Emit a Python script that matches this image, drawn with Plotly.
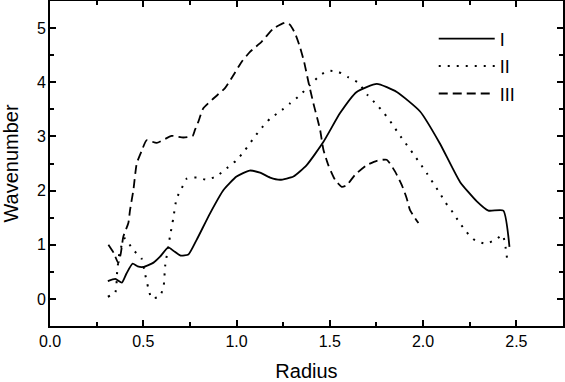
import plotly.graph_objects as go

# Series I (solid)
x1 = [0.31, 0.35, 0.385, 0.41, 0.443, 0.47, 0.50, 0.555, 0.59, 0.634, 0.661, 0.70, 0.742,
      0.786, 0.858, 0.93, 1.00, 1.07, 1.126, 1.18, 1.233, 1.305, 1.376, 1.466, 1.555,
      1.644, 1.752, 1.859, 1.984, 2.09, 2.198, 2.288, 2.35, 2.43, 2.463]
y1 = [0.33, 0.37, 0.30, 0.47, 0.65, 0.60, 0.59, 0.67, 0.78, 0.95, 0.89, 0.80, 0.82,
      1.09, 1.58, 2.01, 2.26, 2.37, 2.33, 2.24, 2.20, 2.26, 2.47, 2.90, 3.43,
      3.82, 3.97, 3.82, 3.46, 2.87, 2.16, 1.80, 1.63, 1.63, 0.96]

# Series II (dotted)
x2 = [0.31, 0.35, 0.36, 0.372, 0.40, 0.447, 0.49, 0.509, 0.527, 0.545, 0.59, 0.61, 0.617,
      0.643, 0.661, 0.679, 0.706, 0.733, 0.787, 0.84, 0.894, 0.947, 1.0, 1.046, 1.09,
      1.126, 1.18, 1.233, 1.287, 1.34, 1.394, 1.448, 1.492, 1.546, 1.60, 1.653, 1.703,
      1.748, 1.791, 1.832, 1.871, 1.907, 1.945, 1.984, 2.02, 2.052, 2.088, 2.12, 2.159,
      2.193, 2.234, 2.279, 2.338, 2.391, 2.427, 2.44, 2.454]
y2 = [0.04, 0.12, 0.5, 0.84, 1.12, 0.90, 0.75, 0.47, 0.20, 0.01, 0.05, 0.26, 0.6,
      1.15, 1.49, 1.86, 2.04, 2.22, 2.24, 2.20, 2.27, 2.41, 2.56, 2.75, 2.96,
      3.12, 3.33, 3.46, 3.61, 3.76, 3.95, 4.13, 4.21, 4.19, 4.09, 3.99, 3.76,
      3.60, 3.43, 3.24, 3.04, 2.87, 2.69, 2.50, 2.32, 2.15, 1.96, 1.78, 1.60,
      1.42, 1.23, 1.08, 1.02, 1.10, 1.18, 1.0, 0.64]

# Series III (dashed)
x3 = [0.313, 0.343, 0.366, 0.38, 0.393, 0.42, 0.429, 0.447, 0.465, 0.49, 0.518, 0.572,
      0.652, 0.715, 0.765, 0.777, 0.795, 0.822, 0.876, 0.938, 0.983, 1.028, 1.072,
      1.135, 1.197, 1.26, 1.287, 1.314, 1.34, 1.362, 1.385, 1.412, 1.433, 1.448,
      1.466, 1.492, 1.528, 1.564, 1.591, 1.635, 1.698, 1.752, 1.805, 1.85, 1.886,
      1.912, 1.93, 1.975]
y3 = [1.0, 0.84, 0.66, 0.85, 1.15, 1.40, 1.64, 2.01, 2.50, 2.72, 2.93, 2.88,
      3.01, 2.98, 3.01, 3.12, 3.27, 3.52, 3.70, 3.89, 4.13, 4.38, 4.56,
      4.75, 4.99, 5.10, 5.06, 4.90, 4.65, 4.38, 4.01, 3.61, 3.33, 3.12,
      2.75, 2.47, 2.20, 2.07, 2.10, 2.29, 2.47, 2.55, 2.57, 2.35, 2.10,
      1.86, 1.64, 1.40]

names = ["I", "II", "III"]
xtick_vals = [0.0, 0.5, 1.0, 1.5, 2.0, 2.5]
ytick_vals = [0, 1, 2, 3, 4, 5]

FONT = "Liberation Sans, Arial, sans-serif"

fig = go.Figure()
styles = [
    dict(dash="solid", width=1.8),
    dict(dash="2px,7px", width=2),
    dict(dash="9px,5px", width=1.8),
]
for xs, ys, nm, st, grp in zip([x1, x2, x3], [y1, y2, y3], names, styles, ["a", "b", "c"]):
    fig.add_trace(go.Scatter(
        x=xs, y=ys, name=nm, mode="lines", legendgroup=grp,
        line=dict(color="black", width=st["width"], dash=st["dash"], shape="spline", smoothing=0.5),
    ))

axis_common = dict(
    showline=True, linewidth=2, linecolor="black", mirror="ticks",
    ticks="inside", ticklen=6, tickwidth=1.5, tickcolor="black",
    showgrid=False, zeroline=False, automargin=False,
    tickfont=dict(family=FONT, size=16, color="black"),
)

fig.update_layout(
    width=565, height=382,
    margin=dict(l=50, r=2, t=1, b=56),
    plot_bgcolor="white", paper_bgcolor="white",
    showlegend=True,
    legend=dict(
        x=0.748, y=0.94, xanchor="left", yanchor="top",
        bgcolor="rgba(0,0,0,0)", borderwidth=0, itemwidth=56,
        font=dict(family=FONT, size=18, color="black"),
        traceorder="grouped", tracegroupgap=1,
    ),
    xaxis=dict(
        range=[0, 2.75], tickvals=xtick_vals, tickformat=".1f",
        minor=dict(dtick=0.25, tick0=0, ticks="inside", ticklen=4, tickwidth=1.5, tickcolor="black"),
        title=dict(text="Radius", font=dict(family=FONT, size=20, color="black"), standoff=21),
        **axis_common,
    ),
    yaxis=dict(
        range=[-0.5, 5.5], tickvals=ytick_vals, ticklabelstandoff=-1,
        minor=dict(dtick=0.5, tick0=0, ticks="inside", ticklen=4, tickwidth=1.5, tickcolor="black"),
        title=dict(text="Wavenumber", font=dict(family=FONT, size=20, color="black"), standoff=14),
        **axis_common,
    ),
)

fig.write_html(
    "out.html",
    config={"displayModeBar": False},
    post_script="document.body.style.margin='0';document.body.style.overflow='hidden';",
)
